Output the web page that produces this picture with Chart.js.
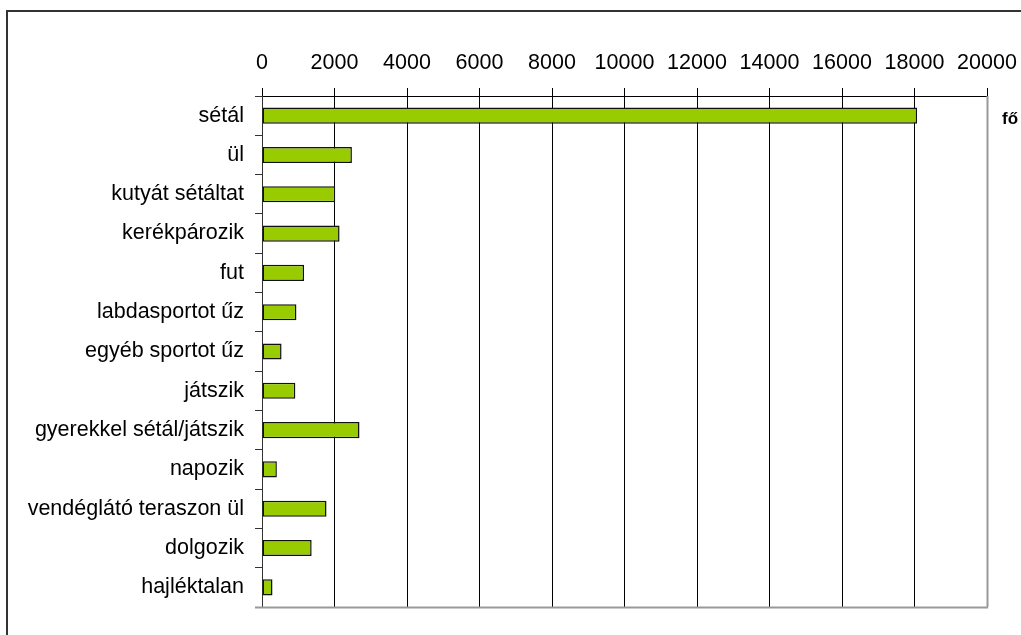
<!DOCTYPE html>
<html>
<head>
<meta charset="utf-8">
<script src="https://cdn.jsdelivr.net/npm/chart.js@4/dist/chart.umd.min.js"></script>
<style>
  body { margin: 0; background: #fff; }
  canvas { display: block; }
</style>
</head>
<body>
<canvas id="c" width="1021" height="635"></canvas>
<script>
const activities = [
  'sétál', 'ül', 'kutyát sétáltat', 'kerékpározik', 'fut', 'labdasportot űz',
  'egyéb sportot űz', 'játszik', 'gyerekkel sétál/játszik', 'napozik',
  'vendéglátó teraszon ül', 'dolgozik', 'hajléktalan'
];
const persons = [18070, 2480, 2020, 2140, 1160, 950, 540, 920, 2690, 410, 1780, 1370, 290];
const axisMax = 20000;
const axisStep = 2000;
const unitLabel = 'fő';

const FONT = 'Liberation Sans, Arial, sans-serif';

// outer frame, gray right/bottom plot border and the unit label
const decor = {
  id: 'decor',
  beforeDraw(chart) {
    const ctx = chart.ctx;
    ctx.save();
    ctx.fillStyle = '#fff';
    ctx.fillRect(0, 0, chart.width, chart.height);
    ctx.strokeStyle = '#333';
    ctx.lineWidth = 2;
    ctx.strokeRect(7, 11, chart.width + 20, chart.height + 20);
    ctx.restore();
  },
  afterDraw(chart) {
    const { ctx, chartArea: a } = chart;
    ctx.save();
    ctx.strokeStyle = '#999';
    ctx.lineWidth = 2;
    ctx.beginPath();
    ctx.moveTo(a.left - 7, a.bottom + 0.5);
    ctx.lineTo(a.right + 1, a.bottom + 0.5);
    ctx.moveTo(a.right + 0.5, a.top);
    ctx.lineTo(a.right + 0.5, a.bottom);
    ctx.stroke();
    ctx.fillStyle = '#000';
    ctx.font = 'bold 17px ' + FONT;
    ctx.textBaseline = 'middle';
    ctx.fillText(unitLabel, a.right + 15, chart.scales.y.getPixelForValue(0) + 4);
    ctx.restore();
  }
};

new Chart(document.getElementById('c'), {
  type: 'bar',
  data: {
    labels: activities,
    datasets: [{
      data: persons,
      backgroundColor: '#99CC00',
      borderColor: '#111',
      borderWidth: 1.5,
      borderSkipped: false,
      categoryPercentage: 1,
      barPercentage: 0.41,
    }],
  },
  options: {
    indexAxis: 'y',
    responsive: false,
    animation: false,
    layout: { padding: { left: 0, right: 34, top: 0, bottom: 28 } },
    plugins: { legend: { display: false }, tooltip: { enabled: false } },
    scales: {
      x: {
        position: 'top',
        min: 0,
        max: axisMax,
        afterFit: s => { s.height = 96; s.paddingLeft = 0; s.paddingRight = 0; },
        ticks: {
          stepSize: axisStep,
          callback: v => String(v),
          color: '#000',
          font: { family: FONT, size: 21.5 },
          padding: 12,
          maxRotation: 0,
        },
        grid: {
          color: c => (c.tick && c.tick.value === axisMax ? '#999' : '#000'),
          tickColor: '#000',
          tickLength: 8,
          lineWidth: 1,
        },
        border: { color: '#000' },
      },
      y: {
        afterFit: s => { s.width = 262; s.paddingTop = 0; s.paddingBottom = 0; },
        ticks: { color: '#000', font: { family: FONT, size: 21.5 }, padding: 11 },
        grid: { drawOnChartArea: false, offset: true, tickLength: 7, color: '#333' },
        border: { color: '#333' },
      },
    },
  },
  plugins: [decor],
});
</script>
</body>
</html>
